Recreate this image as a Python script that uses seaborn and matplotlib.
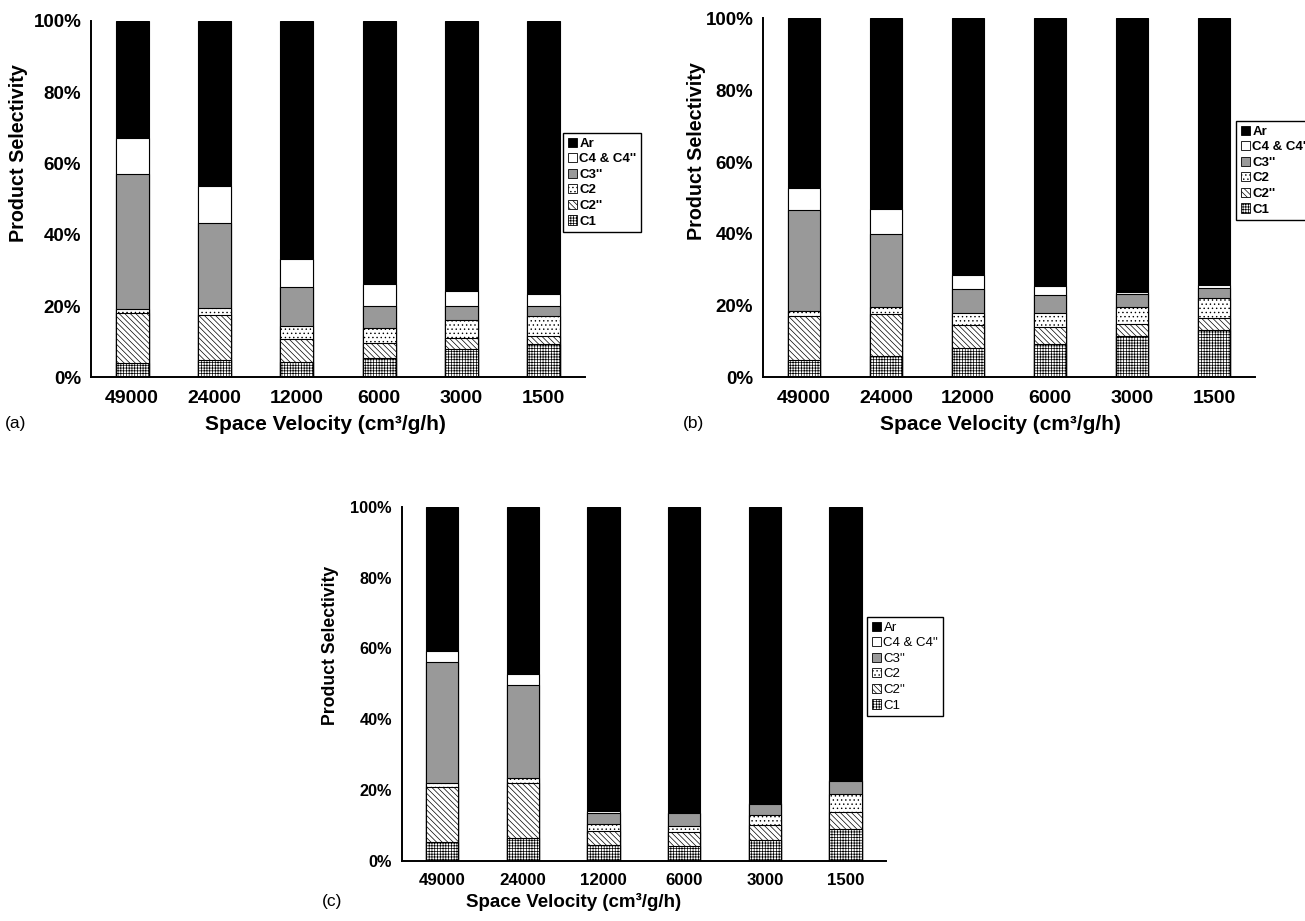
import numpy as np
import matplotlib
matplotlib.use("Agg")
import matplotlib.pyplot as plt
import seaborn as sns
from matplotlib.patches import Patch

# ---------------- data ----------------
velocities = ["49000", "24000", "12000", "6000", "3000", "1500"]
series = ["C1", "C2''", "C2", "C3''", "C4 & C4''", "Ar"]

# panel (a) layer thickness (%)
a_C1 = [4.0, 5.0, 4.3, 5.4, 8.1, 9.4]
a_C2dd = [14.0, 12.4, 6.6, 4.4, 3.0, 2.3]
a_C2 = [1.2, 2.0, 3.6, 4.2, 5.1, 5.6]
a_C3dd = [37.8, 23.9, 10.8, 6.1, 3.9, 2.8]
a_C4 = [10.0, 10.3, 7.8, 6.1, 4.2, 3.3]
a_Ar = [33.0, 46.4, 66.9, 73.8, 75.7, 76.6]

# panel (b)
b_C1 = [4.7, 6.0, 8.3, 9.3, 11.5, 13.3]
b_C2dd = [12.5, 11.6, 6.4, 4.8, 3.3, 3.2]
b_C2 = [1.2, 2.0, 3.1, 3.7, 4.7, 5.5]
b_C3dd = [28.1, 20.2, 6.9, 5.2, 3.7, 2.8]
b_C4 = [6.2, 7.0, 3.9, 2.5, 0.6, 1.0]
b_Ar = [47.3, 53.2, 71.4, 74.5, 76.2, 74.2]

# panel (c)
c_C1 = [5.2, 6.4, 4.3, 4.1, 5.9, 8.9]
c_C2dd = [15.6, 15.5, 4.1, 3.9, 4.1, 4.8]
c_C2 = [1.2, 1.6, 1.9, 1.9, 3.0, 5.2]
c_C3dd = [34.2, 26.1, 3.1, 3.5, 3.0, 3.6]
c_C4 = [3.1, 3.2, 0.6, 0.2, 0.2, 0.2]
c_Ar = [40.7, 47.2, 86.0, 86.4, 83.8, 77.3]

yticks = [0, 20, 40, 60, 80, 100]
ytick_labels = ["0%", "20%", "40%", "60%", "80%", "100%"]

# ---------------- style ----------------
sns.set_theme(style="white")
plt.rcParams["font.family"] = ["Liberation Sans", "DejaVu Sans"]
plt.rcParams["hatch.linewidth"] = 0.5
plt.rcParams["text.color"] = "black"
plt.rcParams["xtick.color"] = "black"
plt.rcParams["ytick.color"] = "black"
plt.rcParams["xtick.labelcolor"] = "black"
plt.rcParams["ytick.labelcolor"] = "black"
plt.rcParams["axes.labelcolor"] = "black"

styles = {
    "C1": dict(face="white", hatch="++++++"),
    "C2''": dict(face="white", hatch="\\\\\\\\\\\\"),
    "C2": dict(face="white", hatch="...."),
    "C3''": dict(face="#999999", hatch=None),
    "C4 & C4''": dict(face="white", hatch=None),
    "Ar": dict(face="black", hatch=None),
}

fig = plt.figure(figsize=(13.05, 9.21), dpi=100)
W, H = 1305.0, 921.0


def make_axes(left, right, top, bottom):
    return fig.add_axes([left / W, 1 - bottom / H, (right - left) / W, (bottom - top) / H])


def draw_panel(ax, layers, legend_xy, legend_bold, tick_fs, label_fs, xlabel_xy, ylabel_xy,
               tag, tag_xy):
    cum = np.cumsum(np.array(layers), axis=0)
    for i in range(len(series) - 1, -1, -1):
        name = series[i]
        st = styles[name]
        n0 = len(ax.patches)
        sns.barplot(x=velocities, y=cum[i], order=velocities, color=st["face"],
                    saturation=1, width=0.4, edgecolor="black", linewidth=0.8,
                    errorbar=None, ax=ax)
        for p in ax.patches[n0:]:
            p.set_facecolor(st["face"])
            if st["hatch"]:
                p.set_hatch(st["hatch"])
    ax.set_xlim(-0.5, 5.5)
    ax.set_ylim(0, 100)
    ax.set_yticks(yticks)
    ax.set_yticklabels(ytick_labels, fontweight="bold", fontsize=tick_fs - 0.5, color="black")
    ax.set_xticks(range(len(velocities)))
    ax.set_xticklabels(velocities, fontweight="bold", fontsize=tick_fs, color="black")
    ax.set_xticks(np.arange(-0.5, 6.0, 1.0), minor=True)
    ax.tick_params(axis="x", which="major", length=0, pad=9)
    ax.tick_params(axis="x", which="minor", length=5, width=1.3, color="black", direction="out")
    ax.tick_params(axis="y", which="major", length=5, width=1.3, color="black", direction="out", pad=2)
    for s in ["top", "right"]:
        ax.spines[s].set_visible(False)
    for s in ["left", "bottom"]:
        ax.spines[s].set_color("black")
        ax.spines[s].set_linewidth(1.4)
    ax.set_xlabel("")
    ax.set_ylabel("")
    fig.text(ylabel_xy[0] / W, 1 - ylabel_xy[1] / H, "Product Selectivity", rotation=90,
             ha="center", va="center", fontweight="bold", fontsize=label_fs - 0.8, color="black")
    fig.text(xlabel_xy[0] / W, 1 - xlabel_xy[1] / H, "Space Velocity (cm³/g/h)",
             ha="center", va="center", fontweight="bold", fontsize=label_fs, color="black")
    fig.text(tag_xy[0] / W, 1 - tag_xy[1] / H, tag, ha="left", va="center", fontsize=12.5,
             color="black")

    order = ["Ar", "C4 & C4''", "C3''", "C2", "C2''", "C1"]
    handles = [Patch(facecolor=styles[k]["face"], edgecolor="black", hatch=styles[k]["hatch"],
                     linewidth=0.6, label=k) for k in order]
    leg = fig.legend(handles=handles, loc="upper left",
                     bbox_to_anchor=(legend_xy[0] / W, 1 - legend_xy[1] / H),
                     bbox_transform=fig.transFigure, borderaxespad=0,
                     prop=dict(weight="bold" if legend_bold else "normal", size=9.5),
                     handlelength=0.7, handleheight=0.7, handletextpad=0.2,
                     labelspacing=0.25, borderpad=0.35, fancybox=False,
                     framealpha=1, edgecolor="black", labelcolor="black")
    leg.get_frame().set_linewidth(1.0)


ax_a = make_axes(91, 585, 20.7, 377.5)
ax_b = make_axes(763, 1255, 18.5, 377.3)
ax_c = make_axes(401.7, 886, 507, 860.7)

draw_panel(ax_a, [a_C1, a_C2dd, a_C2, a_C3dd, a_C4, a_Ar], (563, 133), True, 14, 15,
           (325, 424), (19, 153), "(a)", (5, 423))
draw_panel(ax_b, [b_C1, b_C2dd, b_C2, b_C3dd, b_C4, b_Ar], (1236, 121), True, 14, 15,
           (1000, 424), (697, 151), "(b)", (683, 423))
draw_panel(ax_c, [c_C1, c_C2dd, c_C2, c_C3dd, c_C4, c_Ar], (867, 617), False, 12.2, 13.5,
           (574, 902), (330, 645), "(c)", (322, 901))

fig.savefig("out.png", dpi=100, facecolor="white")
